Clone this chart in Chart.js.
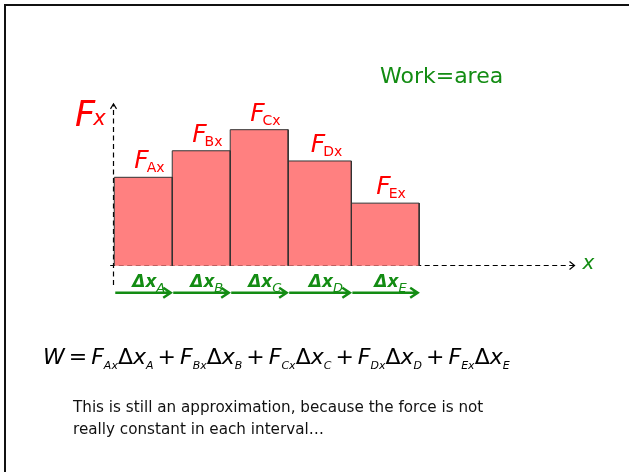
<!DOCTYPE html>
<html>
<head>
<meta charset="utf-8">
<script src="https://cdn.jsdelivr.net/npm/chart.js"></script>
<style>
html, body { margin: 0; padding: 0; background: #fff; }
#wrap { position: relative; width: 629px; height: 472px; overflow: hidden; font-family: "DejaVu Sans", sans-serif; }
#frame { position: absolute; left: 4px; top: 4px; width: 700px; height: 500px; border-top: 2px solid #111; border-left: 2px solid #111; }
canvas { position: absolute; left: 0; top: 0; }
.t { position: absolute; white-space: nowrap; }
#title { left: 380px; top: 63px; color: #138c13; font-size: 22px; }
#formula { left: 43px; top: 344px; font-size: 22px; font-style: italic; }
#formula sub { font-size: 11px; vertical-align: -5px; }
#formula .d { font-style: normal; }
#formula .op { font-style: normal; padding: 0 4px; }
#note { left: 73px; top: 397px; font-size: 15.2px; line-height: 21.5px; color: #111; }
</style>
</head>
<body>
<div id="wrap">
  <div id="frame"></div>
  <canvas id="work" width="629" height="472"></canvas>
  <div class="t" id="title">Work=area</div>
  <div class="t" id="formula">W<span class="op">=</span>F<sub>Ax</sub><span class="d">Δ</span>x<sub>A</sub><span class="op">+</span>F<sub>Bx</sub><span class="d">Δ</span>x<sub>B</sub><span class="op">+</span>F<sub>Cx</sub><span class="d">Δ</span>x<sub>C</sub><span class="op">+</span>F<sub>Dx</sub><span class="d">Δ</span>x<sub>D</sub><span class="op">+</span>F<sub>Ex</sub><span class="d">Δ</span>x<sub>E</sub></div>
  <div class="t" id="note">This is still an approximation, because the force is not<br>really constant in each interval…</div>
</div>
<script>
const intervals = ['A', 'B', 'C', 'D', 'E'];
const widths    = [1, 1, 1, 1.09, 1.17];
const forces    = [6.5, 8.45, 10, 7.7, 4.6];

const red   = '#ff0000';
const green = '#138c13';
const fill  = '#ff8080';

// bar edges along x
const edges = [0];
widths.forEach((w, i) => edges.push(edges[i] + w));

const datasets = intervals.map((name, i) => ({
    label: 'F' + name + 'x',
    data: [
        { x: edges[i],     y: 0 },
        { x: edges[i],     y: forces[i] },
        { x: edges[i + 1], y: forces[i] },
        { x: edges[i + 1], y: 0 }
    ],
    fill: 'origin',
    backgroundColor: fill,
    borderColor: '#333',
    borderWidth: 1,
    pointRadius: 0,
    tension: 0
}));

function subText(ctx, main, sub, x, y, mainFont, subFont, dy, gap, color) {
    ctx.fillStyle = color;
    ctx.textBaseline = 'alphabetic';
    ctx.textAlign = 'left';
    ctx.font = mainFont;
    ctx.fillText(main, x, y);
    const w = ctx.measureText(main).width;
    ctx.font = subFont;
    ctx.fillText(sub, x + w + gap, y + dy);
}

const axesPlugin = {
    id: 'axes',
    beforeDatasetsDraw(chart) {
        const ctx = chart.ctx;
        const xs = chart.scales.x, ys = chart.scales.y;
        const x0 = Math.round(xs.getPixelForValue(-0.02)) + 0.5;
        const y0 = Math.round(ys.getPixelForValue(0)) - 0.5;
        const xEnd = xs.getPixelForValue(7.94), yTop = ys.getPixelForValue(11.9);
        ctx.save();
        ctx.strokeStyle = '#000';
        ctx.lineWidth = 1.2;
        ctx.setLineDash([5, 3.5]);
        ctx.beginPath();
        ctx.moveTo(xs.getPixelForValue(-0.07), y0);
        ctx.lineTo(xEnd, y0);
        ctx.moveTo(x0, ys.getPixelForValue(-1.42));
        ctx.lineTo(x0, yTop);
        ctx.stroke();
        ctx.setLineDash([]);
        ctx.beginPath();
        ctx.moveTo(xEnd - 5, y0 - 4);
        ctx.lineTo(xEnd, y0);
        ctx.lineTo(xEnd - 5, y0 + 4);
        ctx.moveTo(x0 - 3, yTop + 5);
        ctx.lineTo(x0, yTop);
        ctx.lineTo(x0 + 3, yTop + 5);
        ctx.stroke();
        ctx.restore();
    },
    afterDatasetsDraw(chart) {
        const ctx = chart.ctx;
        const xs = chart.scales.x, ys = chart.scales.y;
        const y0 = ys.getPixelForValue(0);
        ctx.save();
        // axis labels
        subText(ctx, 'F', 'x', 75, 126, 'italic 35px "DejaVu Sans"', 'italic 21px "DejaVu Sans"', -1, -2, red);
        ctx.fillStyle = green;
        ctx.font = 'italic 20px "DejaVu Sans"';
        ctx.fillText('x', xs.getPixelForValue(7.94) + 8, y0 + 3);
        intervals.forEach((name, i) => {
            const left = xs.getPixelForValue(edges[i]);
            const right = xs.getPixelForValue(edges[i + 1]);
            const mid = (left + right) / 2;
            const top = ys.getPixelForValue(forces[i]);
            subText(ctx, 'F', name + 'x', mid - 9, top - 9, 'italic 25px "DejaVu Sans"', '14px "DejaVu Sans"', 4, -2, red);
            // interval arrow
            const ay = y0 + 27;
            ctx.strokeStyle = green;
            ctx.lineWidth = 2.5;
            ctx.beginPath();
            ctx.moveTo(left + 1, ay);
            ctx.lineTo(right - 1.5, ay);
            ctx.moveTo(right - 9, ay - 5);
            ctx.lineTo(right - 1.5, ay);
            ctx.lineTo(right - 9, ay + 5);
            ctx.stroke();
            subText(ctx, 'Δx', name, mid - 11, y0 + 21, 'bold italic 17px "DejaVu Sans"', 'italic 13px "DejaVu Sans"', 5, 0, green);
        });
        ctx.restore();
    }
};

const ctx = document.getElementById('work').getContext('2d');
const workChart = new Chart(ctx, {
    type: 'line',
    data: { datasets: datasets },
    options: {
        responsive: false,
        animation: false,
        layout: { padding: { left: 56.3, right: 22, top: 102.5, bottom: 165.5 } },
        plugins: { legend: { display: false }, tooltip: { enabled: false } },
        scales: {
            x: { type: 'linear', min: -1, max: 8.5, display: false },
            y: { type: 'linear', min: -3, max: 12, display: false }
        }
    },
    plugins: [axesPlugin]
});
</script>
</body>
</html>
